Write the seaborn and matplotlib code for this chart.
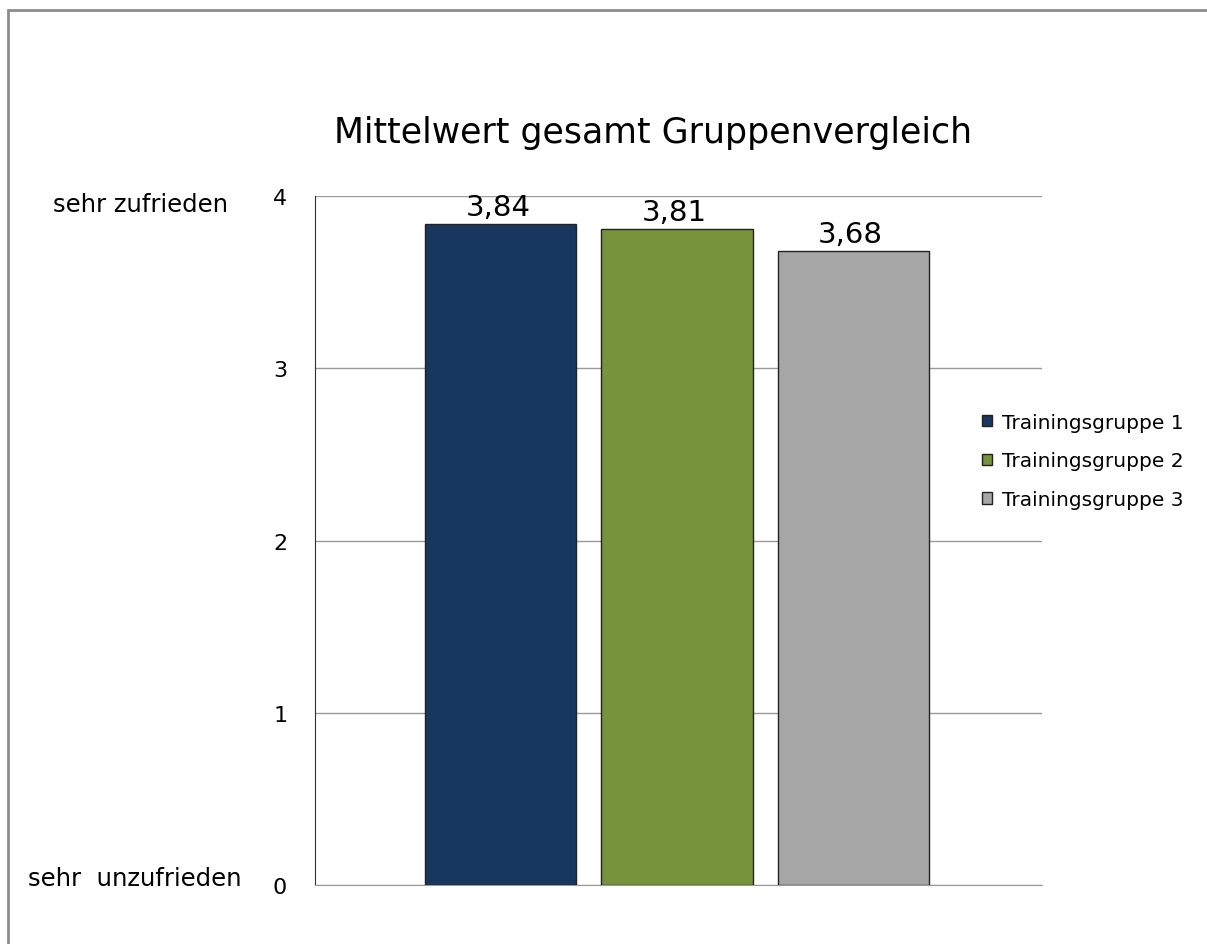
import matplotlib
matplotlib.use("Agg")
import matplotlib.pyplot as plt
import seaborn as sns
import pandas as pd
from matplotlib.patches import Rectangle

groups = ["Trainingsgruppe 1", "Trainingsgruppe 2", "Trainingsgruppe 3"]
means = [3.84, 3.81, 3.68]
bar_colors = ["#17375E", "#77933C", "#A6A6A6"]
y_ticks = [0, 1, 2, 3, 4]
title = "Mittelwert gesamt Gruppenvergleich"
top_label = "sehr zufrieden"
bottom_label = "sehr  unzufrieden"

df = pd.DataFrame({"Gruppe": groups, "Mittelwert": means})

sns.set_style("white")
plt.rcParams["font.family"] = ["DejaVu Sans"]
plt.rcParams["text.color"] = "black"

fig = plt.figure(figsize=(12.07, 9.45), dpi=100)
ax = fig.add_axes([0.261, 0.0624, 0.6023, 0.7291])

sns.barplot(data=df, x="Gruppe", y="Mittelwert", hue="Gruppe", palette=bar_colors,
            width=0.858, edgecolor="#222222", linewidth=1.0, saturation=1,
            legend=True, ax=ax, zorder=3)

ax.set_ylim(0, 4)
ax.set_xlim(-1.054, 3.071)
ax.set_yticks(y_ticks)
ax.set_yticklabels([str(t) for t in y_ticks], fontsize=16, color="black")
ax.set_xticks([])
ax.set_xlabel("")
ax.set_ylabel("")
ax.yaxis.grid(True, color="#9a9a9a", linewidth=1.0, zorder=0)
ax.set_axisbelow(True)
for s in ["top", "right"]:
    ax.spines[s].set_visible(False)
ax.spines["left"].set_color("#303030")
ax.spines["bottom"].set_color("#9a9a9a")
ax.tick_params(axis="y", length=7, width=1, color="#303030", pad=13, direction="out")

# value labels above bars
for i, v in enumerate(means):
    ax.annotate(f"{v:.2f}".replace(".", ","), (i, v), xytext=(-2, 6.5),
                textcoords="offset points", ha="center", va="baseline", fontsize=21)

fig.text(0.541, 1 - 143 / 945, title, ha="center", va="baseline", fontsize=25)

ax.annotate(top_label, (0.044, 4), xycoords=("figure fraction", "data"),
            xytext=(0, -11), textcoords="offset points",
            ha="left", va="baseline", fontsize=17.5)
ax.annotate(bottom_label, (0.023, 0), xycoords=("figure fraction", "data"),
            xytext=(0, 0), textcoords="offset points",
            ha="left", va="baseline", fontsize=17.5)

leg = ax.legend(loc="center left", bbox_to_anchor=(982 / 1207, 1 - 462 / 945),
                bbox_transform=fig.transFigure, frameon=False, fontsize=14.5,
                handlelength=0.5, handleheight=0.5, handletextpad=0.5,
                labelspacing=0.98, borderpad=0, borderaxespad=0)
for h in leg.legend_handles:
    h.set_edgecolor("#222222")
    h.set_linewidth(1.0)

fig.patches.append(Rectangle((7.5 / 1207, -0.1), 1.1, 1.1 - 11 / 945, transform=fig.transFigure,
                             fill=False, edgecolor="#8c8c8c", linewidth=2, figure=fig))

fig.savefig("out.png", dpi=100)
